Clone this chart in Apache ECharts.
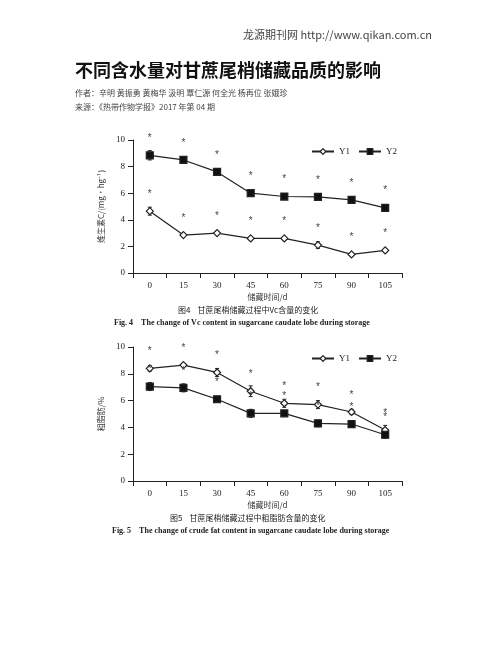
<!DOCTYPE html>
<html>
<head>
<meta charset="utf-8">
<script src="https://cdn.jsdelivr.net/npm/echarts@6/dist/echarts.min.js"></script>
<style>
  html, body { margin: 0; padding: 0; background: #fff; }
  #main { width: 502px; height: 649px; }
</style>
</head>
<body>
<div id="main"></div>
<script>
  var days = ['0', '15', '30', '45', '60', '75', '90', '105'];
  // Fig. 4 vitamin C
  var vcY1 = [4.65, 2.85, 3.0, 2.6, 2.6, 2.1, 1.4, 1.7];
  var vcY1Err = [0.3, 0.1, 0.15, 0.1, 0.1, 0.25, 0.1, 0.15];
  var vcY2 = [8.85, 8.5, 7.6, 6.0, 5.75, 5.72, 5.5, 4.9];
  var vcY2Err = [0.35, 0.15, 0.1, 0.1, 0.2, 0.25, 0.1, 0.2];
  // Fig. 5 crude fat
  var fatY1 = [8.4, 8.65, 8.1, 6.7, 5.8, 5.7, 5.15, 3.8];
  var fatY1Err = [0.2, 0.1, 0.3, 0.4, 0.3, 0.3, 0.2, 0.35];
  var fatY2 = [7.05, 6.95, 6.1, 5.05, 5.05, 4.3, 4.25, 3.45];
  var fatY2Err = [0.3, 0.3, 0.15, 0.3, 0.2, 0.25, 0.25, 0.25];

  var serif = 'Liberation Serif';
  var cjk = 'Noto Sans CJK SC';

  function axisPair(idx) {
    return {
      x: {
        type: 'category', gridIndex: idx, data: days, boundaryGap: true,
        axisLine: { lineStyle: { color: '#222' } },
        axisTick: { show: true, lineStyle: { color: '#222' } },
        axisLabel: { color: '#222', fontFamily: serif, fontSize: 9 },
        name: '储藏时间/d', nameLocation: 'middle', nameGap: 20,
        nameTextStyle: { color: '#333', fontFamily: cjk, fontSize: 8 }
      },
      y: {
        type: 'value', gridIndex: idx, min: 0, max: 10, interval: 2,
        axisLine: { show: true, lineStyle: { color: '#222' } },
        axisTick: { show: true, lineStyle: { color: '#222' } },
        splitLine: { show: false },
        axisLabel: { color: '#222', fontFamily: serif, fontSize: 9 },
        nameLocation: 'middle', nameGap: 22, nameRotate: 90,
        nameTextStyle: { color: '#333', fontFamily: cjk, fontSize: 8 }
      }
    };
  }
  var a0 = axisPair(0), a1 = axisPair(1);
  a0.y.name = '维生素C/(mg·hg⁻¹)';
  a1.y.name = '粗脂肪/%';

  function lineSeries(name, data, idx, filled) {
    return {
      name: name, type: 'line', data: data, xAxisIndex: idx, yAxisIndex: idx,
      symbol: filled ? 'rect' : 'diamond', symbolSize: filled ? 7 : 7,
      showAllSymbol: true,
      color: '#222',
      lineStyle: { color: '#222', width: 1.2, type: 'solid' },
      itemStyle: { color: filled ? '#111' : '#fff', borderColor: '#222', borderWidth: 1.2, opacity: 1 },
      label: { show: true, position: 'top', distance: 8, formatter: '*', color: '#444', fontSize: 10 },
      z: 3
    };
  }
  function errSeries(vals, errs, idx) {
    return {
      type: 'custom', xAxisIndex: idx, yAxisIndex: idx, silent: true, z: 2,
      data: vals.map(function (v, i) { return [i, v - errs[i], v + errs[i]]; }),
      renderItem: function (params, api) {
        var lo = api.coord([api.value(0), api.value(1)]);
        var hi = api.coord([api.value(0), api.value(2)]);
        var s = { stroke: '#222', lineWidth: 1 };
        return { type: 'group', children: [
          { type: 'line', shape: { x1: lo[0], y1: lo[1], x2: hi[0], y2: hi[1] }, style: s },
          { type: 'line', shape: { x1: lo[0] - 2, y1: lo[1], x2: lo[0] + 2, y2: lo[1] }, style: s },
          { type: 'line', shape: { x1: hi[0] - 2, y1: hi[1], x2: hi[0] + 2, y2: hi[1] }, style: s }
        ] };
      }
    };
  }

  function legend(top) {
    return {
      right: 100, top: top, orient: 'horizontal', itemWidth: 22, itemHeight: 7, itemGap: 8,
      textStyle: { fontFamily: serif, fontSize: 9, color: '#222' },
      itemStyle: { borderColor: '#222', borderWidth: 1.2 },
      lineStyle: { color: '#222', type: 'solid' },
      data: ['Y1', 'Y2']
    };
  }

  var chart = echarts.init(document.getElementById('main'));
  chart.setOption({
    backgroundColor: '#fff',
    animation: false,
    grid: [
      { left: 133, top: 140, width: 269, height: 133 },
      { left: 133, top: 347, width: 269, height: 134 }
    ],
    xAxis: [a0.x, a1.x],
    yAxis: [a0.y, a1.y],
    legend: [legend(142), legend(349)],
    series: [
      errSeries(vcY1, vcY1Err, 0), errSeries(vcY2, vcY2Err, 0),
      lineSeries('Y1', vcY1, 0, false), lineSeries('Y2', vcY2, 0, true),
      errSeries(fatY1, fatY1Err, 1), errSeries(fatY2, fatY2Err, 1),
      lineSeries('Y1', fatY1, 1, false), lineSeries('Y2', fatY2, 1, true)
    ],
    graphic: [
      { type: 'text', right: 70, top: 29, style: { text: '龙源期刊网 http://www.qikan.com.cn', font: '11px "Noto Sans CJK SC"', fill: '#444' } },
      { type: 'text', left: 75, top: 61, style: { text: '不同含水量对甘蔗尾梢储藏品质的影响', font: 'bold 18px "Noto Sans CJK SC"', fill: '#111' } },
      { type: 'text', left: 75, top: 89, style: { text: '作者：辛明 黄振勇 黄梅华 汲明 覃仁源 何全光 杨再位 张娥珍', font: '8px "Noto Sans CJK SC"', fill: '#444' } },
      { type: 'text', left: 75, top: 103, style: { text: '来源：《热带作物学报》2017 年第 04 期', font: '8px "Noto Sans CJK SC"', fill: '#444' } },
      { type: 'text', left: 178, top: 306, style: { text: '图4    甘蔗尾梢储藏过程中Vc含量的变化', font: '8px "Noto Sans CJK SC"', fill: '#222' } },
      { type: 'text', left: 114, top: 319, style: { text: 'Fig. 4    The change of Vc content in sugarcane caudate lobe during storage', font: 'bold 8px "Liberation Serif"', fill: '#222' } },
      { type: 'text', left: 170, top: 514, style: { text: '图5    甘蔗尾梢储藏过程中粗脂肪含量的变化', font: '8px "Noto Sans CJK SC"', fill: '#222' } },
      { type: 'text', left: 112, top: 527, style: { text: 'Fig. 5    The change of crude fat content in sugarcane caudate lobe during storage', font: 'bold 8px "Liberation Serif"', fill: '#222' } }
    ]
  });
</script>
</body>
</html>
